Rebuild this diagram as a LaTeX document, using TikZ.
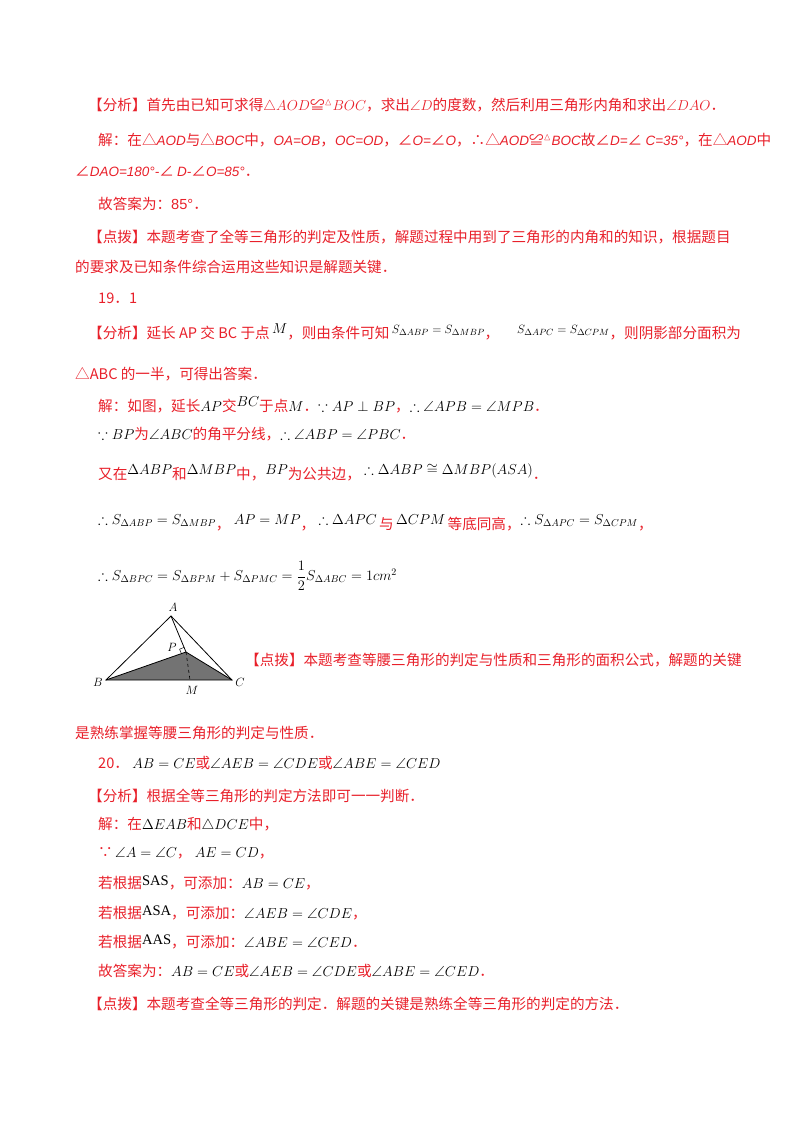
\documentclass[tikz,border=0pt]{standalone}
\usetikzlibrary{calc}
\usepackage{fontspec}
\setmainfont{Noto Sans CJK SC}
\newfontfamily\lat{Liberation Sans}
\usepackage{amsmath,amssymb}
\definecolor{rd}{HTML}{E8202A}
\newcommand{\li}[1]{{\lat\itshape\fontsize{13.5}{16}\selectfont #1}}
\newcommand{\bm}[1]{{\color{black}$#1$}}
\newcommand{\up}[1]{\raisebox{5pt}{\color{black}$#1$}}
\newcommand{\ups}[1]{\raisebox{5pt}{\color{black}\fontsize{12.5}{14}\selectfont$#1$}}
\begin{document}
\begin{tikzpicture}[x=1pt,y=-1pt,
  ln/.style={anchor=west,inner sep=0pt,text=rd,font=\fontsize{14.6}{16}\selectfont},
  lab/.style={font=\fontsize{12}{12}\selectfont}]
\useasboundingbox (0,0) rectangle (800,1132);
\node[ln] (l1) at (88,106) {【分析】首先由已知可求得$\triangle AOD$≌$^{\vartriangle}BOC$，求出$\angle D$的度数，然后利用三角形内角和求出$\angle DAO$．};
\node[ln] (l2) at (98,140) {解：在△\li{AOD}与△\li{BOC}中，\li{OA=OB}，\li{OC=OD}，∠\li{O=}∠\li{O}，∴△\li{AOD}≌$^{\vartriangle}$\li{BOC}故∠\li{D=}∠ \li{C=35°}，在△\li{AOD}中};
\node[ln] (l3) at (75,171) {∠\li{DAO=180°-}∠ \li{D-}∠\li{O=85°}．};
\node[ln] (l4) at (98,204) {故答案为：{\lat 85°}．};
\node[ln] (l5) at (88,237) {【点拨】本题考查了全等三角形的判定及性质，解题过程中用到了三角形的内角和的知识，根据题目};
\node[ln] (l6) at (75,267) {的要求及已知条件综合运用这些知识是解题关键．};
\node[ln] (l7) at (98,298) {19．1};
\node[ln] (l8) at (88,332) {【分析】延长 AP 交 BC 于点\,\up{M}，则由条件可知\,\ups{S_{\Delta ABP}=S_{\Delta MBP}}，\quad\ \ups{S_{\Delta APC}=S_{\Delta CPM}}，则阴影部分面积为};
\node[ln] (l9) at (75,374) {△ABC 的一半，可得出答案．};
\node[ln] (l10) at (98,405) {解：如图，延长\bm{AP}交\up{BC}于点\bm{M}．\bm{\because AP\perp BP}，\bm{\therefore\angle APB=\angle MPB}．};
\node[ln] (l11) at (98,434) {\bm{\because BP}为\bm{\angle ABC}的角平分线，\bm{\therefore\angle ABP=\angle PBC}．};
\node[ln] (l12) at (98,472) {又在\up{\Delta ABP}和\up{\Delta MBP}中，\up{BP}为公共边，\ \up{\therefore\Delta ABP\cong\Delta MBP(ASA)}．};
\node[ln] (l13) at (98,523) {\up{\therefore S_{\Delta ABP}=S_{\Delta MBP}}，\ \up{AP=MP}，\ \up{\therefore\Delta APC}\,与\,\up{\Delta CPM}\,等底同高，\up{\therefore S_{\Delta APC}=S_{\Delta CPM}}，};
\node[ln,text=black] (l14) at (98,576) {$\therefore S_{\Delta BPC}=S_{\Delta BPM}+S_{\Delta PMC}=\dfrac12 S_{\Delta ABC}=1cm^2$};
% figure
\coordinate (A) at (171,616);
\coordinate (B) at (106,680);
\coordinate (C) at (232,680);
\coordinate (P) at (186,652);
\coordinate (M) at (190,680);
\fill[black!55] (B) -- (P) -- (C) -- cycle;
\draw[line width=0.8pt] (A) -- (B) -- (C) -- cycle;
\draw[line width=0.8pt] (A) -- (P) -- (B) (P) -- (C);
\draw[line width=0.6pt,dashed] (P) -- (M);
\draw[line width=0.5pt] ($(P)!5pt!(A)$) -- ($(P)!5pt!(A)+(-4.5,1.8)$) -- ($(P)+(-4.5,1.8)$);
\node[lab] (lA) at (173,607) {$A$};
\node[lab] (lB) at (98,682) {$B$};
\node[lab] (lC) at (240,682) {$C$};
\node[lab] (lP) at (172,647) {$P$};
\node[lab] (lM) at (192,690) {$M$};
\node[ln] (l15) at (245,660) {【点拨】本题考查等腰三角形的判定与性质和三角形的面积公式，解题的关键};
\node[ln] (l16) at (75,733) {是熟练掌握等腰三角形的判定与性质．};
\node[ln] (l17) at (98,763) {20．\ \bm{AB=CE}或\bm{\angle AEB=\angle CDE}或\bm{\angle ABE=\angle CED}};
\node[ln] (l18) at (88,796) {【分析】根据全等三角形的判定方法即可一一判断．};
\node[ln] (l19) at (98,825) {解：在\bm{\Delta EAB}和\bm{\triangle DCE}中，};
\node[ln] (l20) at (98,853) {∵\,\bm{\angle A=\angle C}，\ \bm{AE=CD}，};
\node[ln] (l21) at (98,883) {若根据\raisebox{3pt}{\color{black}\fontspec{Liberation Serif}SAS}，可添加：\bm{AB=CE}，};
\node[ln] (l22) at (98,913) {若根据\raisebox{3pt}{\color{black}\fontspec{Liberation Serif}ASA}，可添加：\bm{\angle AEB=\angle CDE}，};
\node[ln] (l23) at (98,942) {若根据\raisebox{3pt}{\color{black}\fontspec{Liberation Serif}AAS}，可添加：\bm{\angle ABE=\angle CED}．};
\node[ln] (l24) at (98,971) {故答案为：\bm{AB=CE}或\bm{\angle AEB=\angle CDE}或\bm{\angle ABE=\angle CED}．};
\node[ln] (l25) at (88,1004) {【点拨】本题考查全等三角形的判定．解题的关键是熟练全等三角形的判定的方法．};
\end{tikzpicture}
\end{document}
